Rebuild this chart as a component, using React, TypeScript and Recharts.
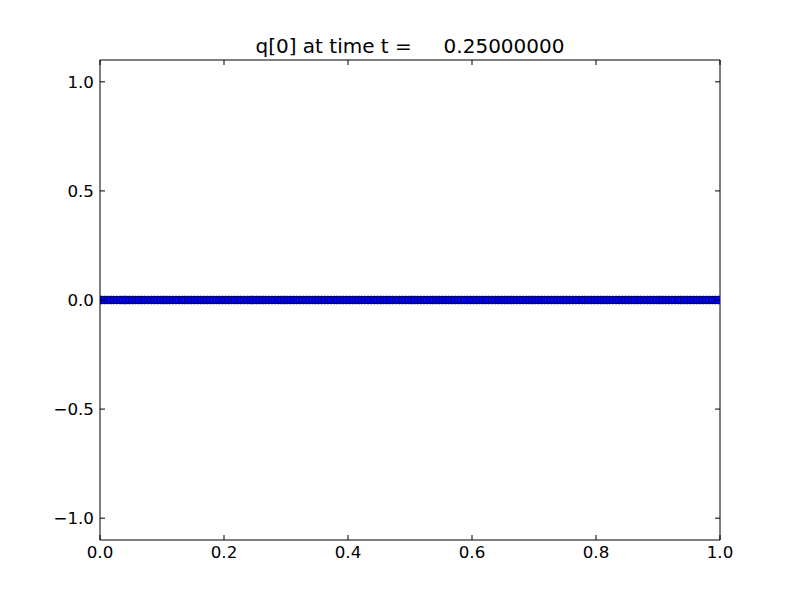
import React from "react";
import { LineChart, Line, XAxis, YAxis } from "recharts";

const TITLE = "q[0] at time t =     0.25000000";

const xValues: number[] = [
  0.0025, 0.0075, 0.0125, 0.0175, 0.0225, 0.0275, 0.0325, 0.0375, 0.0425, 0.0475,
  0.0525, 0.0575, 0.0625, 0.0675, 0.0725, 0.0775, 0.0825, 0.0875, 0.0925, 0.0975,
  0.1025, 0.1075, 0.1125, 0.1175, 0.1225, 0.1275, 0.1325, 0.1375, 0.1425, 0.1475,
  0.1525, 0.1575, 0.1625, 0.1675, 0.1725, 0.1775, 0.1825, 0.1875, 0.1925, 0.1975,
  0.2025, 0.2075, 0.2125, 0.2175, 0.2225, 0.2275, 0.2325, 0.2375, 0.2425, 0.2475,
  0.2525, 0.2575, 0.2625, 0.2675, 0.2725, 0.2775, 0.2825, 0.2875, 0.2925, 0.2975,
  0.3025, 0.3075, 0.3125, 0.3175, 0.3225, 0.3275, 0.3325, 0.3375, 0.3425, 0.3475,
  0.3525, 0.3575, 0.3625, 0.3675, 0.3725, 0.3775, 0.3825, 0.3875, 0.3925, 0.3975,
  0.4025, 0.4075, 0.4125, 0.4175, 0.4225, 0.4275, 0.4325, 0.4375, 0.4425, 0.4475,
  0.4525, 0.4575, 0.4625, 0.4675, 0.4725, 0.4775, 0.4825, 0.4875, 0.4925, 0.4975,
  0.5025, 0.5075, 0.5125, 0.5175, 0.5225, 0.5275, 0.5325, 0.5375, 0.5425, 0.5475,
  0.5525, 0.5575, 0.5625, 0.5675, 0.5725, 0.5775, 0.5825, 0.5875, 0.5925, 0.5975,
  0.6025, 0.6075, 0.6125, 0.6175, 0.6225, 0.6275, 0.6325, 0.6375, 0.6425, 0.6475,
  0.6525, 0.6575, 0.6625, 0.6675, 0.6725, 0.6775, 0.6825, 0.6875, 0.6925, 0.6975,
  0.7025, 0.7075, 0.7125, 0.7175, 0.7225, 0.7275, 0.7325, 0.7375, 0.7425, 0.7475,
  0.7525, 0.7575, 0.7625, 0.7675, 0.7725, 0.7775, 0.7825, 0.7875, 0.7925, 0.7975,
  0.8025, 0.8075, 0.8125, 0.8175, 0.8225, 0.8275, 0.8325, 0.8375, 0.8425, 0.8475,
  0.8525, 0.8575, 0.8625, 0.8675, 0.8725, 0.8775, 0.8825, 0.8875, 0.8925, 0.8975,
  0.9025, 0.9075, 0.9125, 0.9175, 0.9225, 0.9275, 0.9325, 0.9375, 0.9425, 0.9475,
  0.9525, 0.9575, 0.9625, 0.9675, 0.9725, 0.9775, 0.9825, 0.9875, 0.9925, 0.9975,
];

const qValues: number[] = [
  0, 0, 0, 0, 0, 0, 0, 0, 0, 0, 0, 0, 0, 0, 0, 0, 0, 0, 0, 0,
  0, 0, 0, 0, 0, 0, 0, 0, 0, 0, 0, 0, 0, 0, 0, 0, 0, 0, 0, 0,
  0, 0, 0, 0, 0, 0, 0, 0, 0, 0, 0, 0, 0, 0, 0, 0, 0, 0, 0, 0,
  0, 0, 0, 0, 0, 0, 0, 0, 0, 0, 0, 0, 0, 0, 0, 0, 0, 0, 0, 0,
  0, 0, 0, 0, 0, 0, 0, 0, 0, 0, 0, 0, 0, 0, 0, 0, 0, 0, 0, 0,
  0, 0, 0, 0, 0, 0, 0, 0, 0, 0, 0, 0, 0, 0, 0, 0, 0, 0, 0, 0,
  0, 0, 0, 0, 0, 0, 0, 0, 0, 0, 0, 0, 0, 0, 0, 0, 0, 0, 0, 0,
  0, 0, 0, 0, 0, 0, 0, 0, 0, 0, 0, 0, 0, 0, 0, 0, 0, 0, 0, 0,
  0, 0, 0, 0, 0, 0, 0, 0, 0, 0, 0, 0, 0, 0, 0, 0, 0, 0, 0, 0,
  0, 0, 0, 0, 0, 0, 0, 0, 0, 0, 0, 0, 0, 0, 0, 0, 0, 0, 0, 0,
];

const xTicks: number[] = [0.0, 0.2, 0.4, 0.6, 0.8, 1.0];
const yTicks: number[] = [-1.0, -0.5, 0.0, 0.5, 1.0];

const data = xValues.map((x, i) => ({ x, q: qValues[i] }));

const FONT = "'DejaVu Sans', sans-serif";
const FS = 16.7;
const M = 6; // gap between axis line and label
const TL = 5; // inward tick length
const fmt = (v: number) => v.toFixed(1).replace("-", "\u2212");

const BottomTick = (props: any) => {
  const { x, y, payload } = props;
  const ay = y - M;
  return (
    <g>
      <line x1={x} x2={x} y1={ay} y2={ay - TL} stroke="#000" strokeWidth={1} />
      <text x={x} y={y} dy="0.71em" textAnchor="middle" fontFamily={FONT} fontSize={FS} fill="#000">
        {fmt(payload.value)}
      </text>
    </g>
  );
};

const LeftTick = (props: any) => {
  const { x, y, payload } = props;
  const ax = x + M;
  return (
    <g>
      <line x1={ax} x2={ax + TL} y1={y} y2={y} stroke="#000" strokeWidth={1} />
      <text x={x} y={y} dy="0.355em" textAnchor="end" fontFamily={FONT} fontSize={FS} fill="#000">
        {fmt(payload.value)}
      </text>
    </g>
  );
};

const TopTick = (props: any) => {
  const { x, y } = props;
  return <line x1={x} x2={x} y1={y} y2={y + TL} stroke="#000" strokeWidth={1} />;
};

const RightTick = (props: any) => {
  const { x, y } = props;
  return <line x1={x} x2={x - TL} y1={y} y2={y} stroke="#000" strokeWidth={1} />;
};

export default function App() {
  return (
    <div style={{ position: "absolute", left: 0, top: 0, width: 800, height: 600, background: "#fff" }}>
      <div
        style={{
          position: "absolute",
          left: 0,
          width: 820,
          top: 36,
          textAlign: "center",
          fontFamily: FONT,
          fontSize: 20,
          lineHeight: "20px",
          whiteSpace: "pre",
          color: "#000",
        }}
      >
        {TITLE}
      </div>
      <LineChart
        width={800}
        height={600}
        data={data}
        margin={{ top: 50, right: 70, bottom: 0, left: 0 }}
      >
        <XAxis
          xAxisId="bottom"
          dataKey="x"
          type="number"
          domain={[0, 1]}
          ticks={xTicks}
          orientation="bottom"
          height={60}
          tickSize={0}
          tickMargin={M}
          axisLine={{ stroke: "#000", strokeWidth: 1 }}
          tickLine={false}
          tick={BottomTick}
          interval={0}
          allowDataOverflow
        />
        <XAxis
          xAxisId="top"
          dataKey="x"
          type="number"
          domain={[0, 1]}
          ticks={xTicks}
          orientation="top"
          height={10}
          tickSize={0}
          tickMargin={0}
          axisLine={{ stroke: "#000", strokeWidth: 1 }}
          tickLine={false}
          tick={TopTick}
          interval={0}
          allowDataOverflow
        />
        <YAxis
          yAxisId="left"
          type="number"
          domain={[-1.1, 1.1]}
          ticks={yTicks}
          orientation="left"
          width={100}
          tickSize={0}
          tickMargin={M}
          axisLine={{ stroke: "#000", strokeWidth: 1 }}
          tickLine={false}
          tick={LeftTick}
          interval={0}
          allowDataOverflow
        />
        <YAxis
          yAxisId="right"
          type="number"
          domain={[-1.1, 1.1]}
          ticks={yTicks}
          orientation="right"
          width={10}
          tickSize={0}
          tickMargin={0}
          axisLine={{ stroke: "#000", strokeWidth: 1 }}
          tickLine={false}
          tick={RightTick}
          interval={0}
          allowDataOverflow
        />
        <Line
          xAxisId="top"
          yAxisId="right"
          dataKey="q"
          stroke="none"
          dot={false}
          activeDot={false}
          isAnimationActive={false}
        />
        <Line
          xAxisId="bottom"
          yAxisId="left"
          dataKey="q"
          stroke="#0000ff"
          strokeWidth={1}
          dot={{ r: 4, fill: "#0000ff", stroke: "#000", strokeWidth: 0.6 }}
          activeDot={false}
          isAnimationActive={false}
        />
      </LineChart>
    </div>
  );
}
